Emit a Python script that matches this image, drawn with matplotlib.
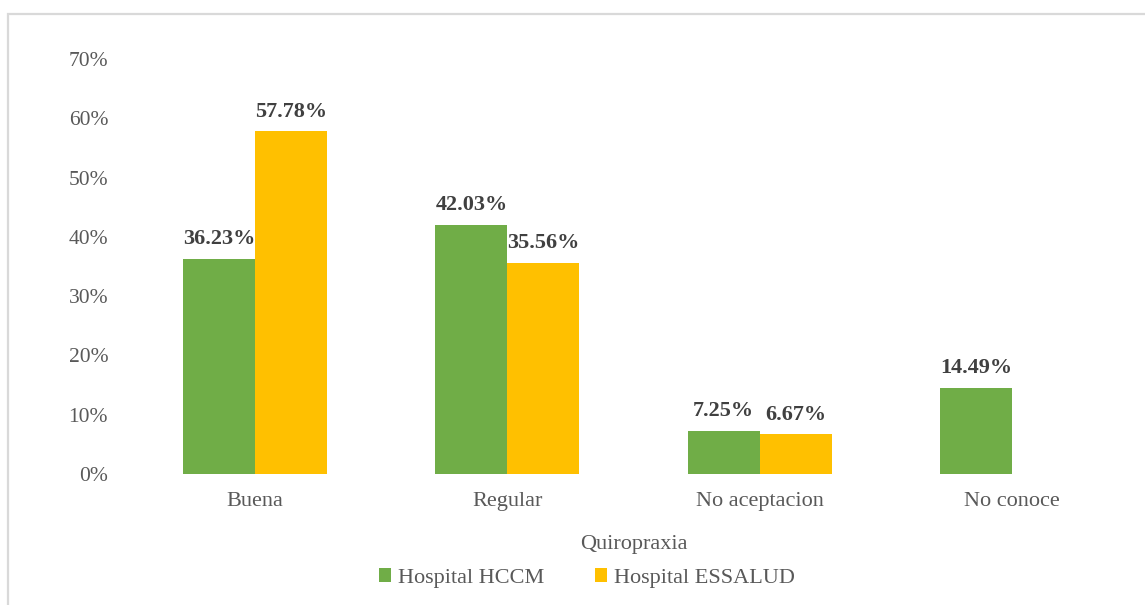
import matplotlib
matplotlib.use("Agg")
import matplotlib.pyplot as plt
from matplotlib.patches import Rectangle
import numpy as np

categories = ["Buena", "Regular", "No aceptacion", "No conoce"]
hccm = [36.23, 42.03, 7.25, 14.49]
essalud = [57.78, 35.56, 6.67, 0.0]
series_names = ["Hospital HCCM", "Hospital ESSALUD"]
yticks = [0, 10, 20, 30, 40, 50, 60, 70]

plt.rcParams['font.family'] = ['Liberation Serif', 'DejaVu Serif']
green = "#70AD47"
yellow = "#FFC000"
gray = "#595959"
lab = "#404040"

fig = plt.figure(figsize=(11.45, 6.05), dpi=100)
fig.patch.set_facecolor("white")
# outer chart border
fig.patches.append(Rectangle((8/1145, -0.01), 1.02, (605-14)/605 + 0.01, transform=fig.transFigure,
                             fill=False, edgecolor="#D9D9D9", linewidth=1.6))

ax = fig.add_axes([129/1145, 1-474/605, (1138-129)/1145, (474-59)/605])
x = np.arange(len(categories))
w = 0.285
b1 = ax.bar(x - w/2, hccm, w, color=green, label=series_names[0])
b2 = ax.bar(x + w/2, essalud, w, color=yellow, label=series_names[1])

for bars, vals in ((b1, hccm), (b2, essalud)):
    for rect, v in zip(bars, vals):
        if v > 0:
            ax.annotate(f"{v:.2f}%", (rect.get_x() + rect.get_width()/2, v),
                        xytext=(0, 7), textcoords="offset points", ha="center", va="bottom",
                        fontsize=16, fontweight="bold", color=lab)

ax.set_ylim(0, 70)
ax.set_xlim(-0.5, len(categories) - 0.5)
ax.set_yticks(yticks)
ax.set_yticklabels([f"{t}%" for t in yticks])
ax.set_xticks(x)
ax.set_xticklabels(categories)
ax.tick_params(axis="y", length=0, pad=15, labelsize=15.5, labelcolor=gray)
ax.tick_params(axis="x", length=0, pad=13, labelsize=16, labelcolor=gray)
for s in ax.spines.values():
    s.set_visible(False)
ax.set_xlabel("Quiropraxia", fontsize=16, color=gray, labelpad=17)

leg = fig.legend(handles=[b1, b2], labels=series_names, loc="center", bbox_to_anchor=(587/1145, 1-578/605),
                 ncol=2, frameon=False, fontsize=16, handlelength=0.55, handleheight=0.55,
                 handletextpad=0.3, columnspacing=2.3)
for t in leg.get_texts():
    t.set_color(gray)

fig.savefig("out.png", dpi=100)
